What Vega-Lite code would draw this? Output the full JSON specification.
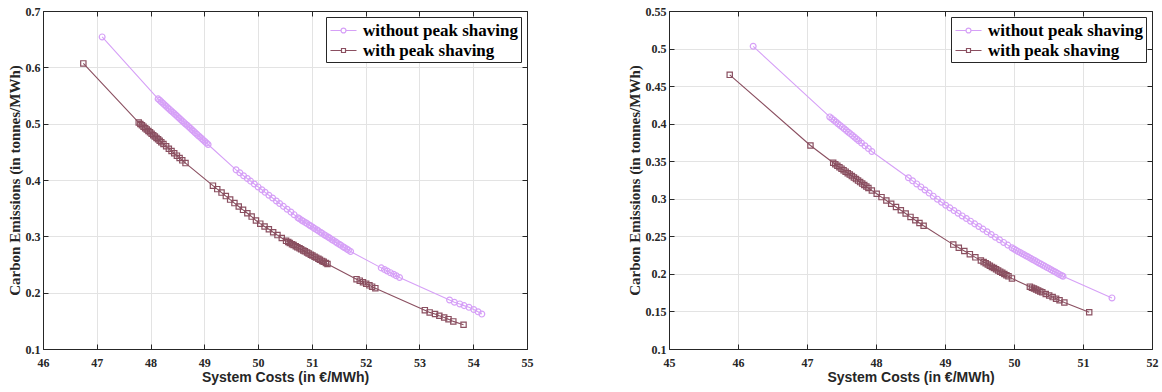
{
 "$schema": "https://vega.github.io/schema/vega-lite/v6.json",
 "background": "white",
 "padding": {"left": 6, "top": 4, "right": 2, "bottom": 2},
 "spacing": 92,
 "config": {
  "view": {"stroke": "#262626", "strokeWidth": 1},
  "axis": {"labelFont": "Liberation Serif", "labelFontWeight": "bold", "labelFontSize": 12, "labelColor": "#262626",
           "titleFont": "Liberation Serif", "titleFontWeight": "bold", "titleFontSize": 15, "titleColor": "#262626",
           "gridColor": "#e3e3e3", "gridWidth": 1, "domainColor": "#262626", "tickColor": "#262626", "tickSize": -5,
           "labelFlush": false, "labelOverlap": false, "labelBound": false},
  "legend": {"title": null, "orient": "top-right", "offset": 6, "padding": 3, "rowPadding": 1, "strokeColor": "#262626", "fillColor": "white",
             "labelFont": "Liberation Serif", "labelFontSize": 17, "labelFontWeight": "bold", "labelColor": "black", "labelLimit": 300, "labelOffset": 9,
             "symbolSize": 361, "symbolOffset": 4, "symbolStrokeWidth": 1}
 },
 "datasets": {
  "left": [
   {"s":"with","x":46.75,"y":0.607},
   {"s":"with","x":47.78,"y":0.502},{"s":"with","x":47.81,"y":0.4995},{"s":"with","x":47.84,"y":0.497},{"s":"with","x":47.87,"y":0.4945},{"s":"with","x":47.90,"y":0.492},{"s":"with","x":47.93,"y":0.4896},{"s":"with","x":47.96,"y":0.4871},{"s":"with","x":47.99,"y":0.4846},{"s":"with","x":48.02,"y":0.4821},{"s":"with","x":48.05,"y":0.4796},{"s":"with","x":48.08,"y":0.4772},{"s":"with","x":48.11,"y":0.4747},{"s":"with","x":48.14,"y":0.4722},{"s":"with","x":48.17,"y":0.4697},{"s":"with","x":48.20,"y":0.4672},{"s":"with","x":48.24,"y":0.4639},{"s":"with","x":48.29,"y":0.4598},{"s":"with","x":48.34,"y":0.4556},{"s":"with","x":48.39,"y":0.4515},{"s":"with","x":48.44,"y":0.4474},{"s":"with","x":48.49,"y":0.4432},{"s":"with","x":48.54,"y":0.4391},{"s":"with","x":48.59,"y":0.4349},{"s":"with","x":48.65,"y":0.430},
   {"s":"with","x":49.16,"y":0.390},{"s":"with","x":49.24,"y":0.3838},{"s":"with","x":49.32,"y":0.3776},{"s":"with","x":49.40,"y":0.3714},{"s":"with","x":49.48,"y":0.3652},{"s":"with","x":49.56,"y":0.3590},{"s":"with","x":49.64,"y":0.3530},{"s":"with","x":49.72,"y":0.3470},{"s":"with","x":49.80,"y":0.3410},{"s":"with","x":49.88,"y":0.3350},{"s":"with","x":49.96,"y":0.3280},{"s":"with","x":50.04,"y":0.3225},{"s":"with","x":50.12,"y":0.3175},{"s":"with","x":50.20,"y":0.3125},{"s":"with","x":50.28,"y":0.3073},{"s":"with","x":50.36,"y":0.3022},{"s":"with","x":50.44,"y":0.2971},{"s":"with","x":50.52,"y":0.292},
   {"s":"with","x":50.56,"y":0.2899},{"s":"with","x":50.59,"y":0.2883},{"s":"with","x":50.63,"y":0.2861},{"s":"with","x":50.66,"y":0.2845},{"s":"with","x":50.70,"y":0.2824},{"s":"with","x":50.73,"y":0.2808},{"s":"with","x":50.77,"y":0.2787},{"s":"with","x":50.80,"y":0.2771},{"s":"with","x":50.84,"y":0.2750},{"s":"with","x":50.87,"y":0.2734},{"s":"with","x":50.91,"y":0.2713},{"s":"with","x":50.94,"y":0.2697},{"s":"with","x":50.98,"y":0.2675},{"s":"with","x":51.01,"y":0.2659},{"s":"with","x":51.05,"y":0.2638},{"s":"with","x":51.08,"y":0.2622},{"s":"with","x":51.12,"y":0.2601},{"s":"with","x":51.15,"y":0.2585},{"s":"with","x":51.19,"y":0.2564},{"s":"with","x":51.22,"y":0.2548},{"s":"with","x":51.26,"y":0.2526},{"s":"with","x":51.29,"y":0.251},
   {"s":"with","x":51.83,"y":0.224},{"s":"with","x":51.89,"y":0.2213},{"s":"with","x":51.95,"y":0.2185},{"s":"with","x":52.01,"y":0.2158},{"s":"with","x":52.07,"y":0.2130},{"s":"with","x":52.12,"y":0.2107},{"s":"with","x":52.18,"y":0.208},
   {"s":"with","x":53.10,"y":0.169},{"s":"with","x":53.19,"y":0.165},{"s":"with","x":53.29,"y":0.162},{"s":"with","x":53.37,"y":0.159},{"s":"with","x":53.46,"y":0.156},{"s":"with","x":53.54,"y":0.153},{"s":"with","x":53.63,"y":0.149},{"s":"with","x":53.82,"y":0.143},
   {"s":"without","x":47.10,"y":0.654},
   {"s":"without","x":48.14,"y":0.544},{"s":"without","x":48.17,"y":0.5414},{"s":"without","x":48.20,"y":0.5388},{"s":"without","x":48.23,"y":0.5362},{"s":"without","x":48.26,"y":0.5335},{"s":"without","x":48.29,"y":0.5309},{"s":"without","x":48.32,"y":0.5283},{"s":"without","x":48.35,"y":0.5257},{"s":"without","x":48.38,"y":0.5231},{"s":"without","x":48.41,"y":0.5205},{"s":"without","x":48.44,"y":0.5179},{"s":"without","x":48.47,"y":0.5153},{"s":"without","x":48.50,"y":0.5126},{"s":"without","x":48.53,"y":0.5100},{"s":"without","x":48.56,"y":0.5074},{"s":"without","x":48.59,"y":0.5048},{"s":"without","x":48.62,"y":0.5022},{"s":"without","x":48.65,"y":0.4996},{"s":"without","x":48.68,"y":0.4970},{"s":"without","x":48.71,"y":0.4944},{"s":"without","x":48.74,"y":0.4917},{"s":"without","x":48.77,"y":0.4891},{"s":"without","x":48.80,"y":0.4865},{"s":"without","x":48.83,"y":0.4839},{"s":"without","x":48.86,"y":0.4813},{"s":"without","x":48.89,"y":0.4787},{"s":"without","x":48.92,"y":0.4761},{"s":"without","x":48.95,"y":0.4735},{"s":"without","x":48.98,"y":0.4708},{"s":"without","x":49.01,"y":0.4682},{"s":"without","x":49.04,"y":0.4656},{"s":"without","x":49.07,"y":0.463},
   {"s":"without","x":49.59,"y":0.418},{"s":"without","x":49.66,"y":0.4128},{"s":"without","x":49.73,"y":0.4076},{"s":"without","x":49.80,"y":0.4025},{"s":"without","x":49.86,"y":0.3980},{"s":"without","x":49.93,"y":0.3928},{"s":"without","x":50.00,"y":0.3877},{"s":"without","x":50.07,"y":0.3826},{"s":"without","x":50.13,"y":0.3781},{"s":"without","x":50.20,"y":0.3730},{"s":"without","x":50.27,"y":0.3680},{"s":"without","x":50.34,"y":0.3628},{"s":"without","x":50.40,"y":0.3583},{"s":"without","x":50.47,"y":0.3532},{"s":"without","x":50.54,"y":0.3480},{"s":"without","x":50.61,"y":0.3430},{"s":"without","x":50.67,"y":0.3385},{"s":"without","x":50.74,"y":0.333},
   {"s":"without","x":50.77,"y":0.3312},{"s":"without","x":50.81,"y":0.3287},{"s":"without","x":50.84,"y":0.3269},{"s":"without","x":50.88,"y":0.3244},{"s":"without","x":50.91,"y":0.3226},{"s":"without","x":50.95,"y":0.3201},{"s":"without","x":50.98,"y":0.3183},{"s":"without","x":51.02,"y":0.3159},{"s":"without","x":51.05,"y":0.3140},{"s":"without","x":51.09,"y":0.3116},{"s":"without","x":51.12,"y":0.3097},{"s":"without","x":51.16,"y":0.3073},{"s":"without","x":51.19,"y":0.3055},{"s":"without","x":51.23,"y":0.3030},{"s":"without","x":51.26,"y":0.3012},{"s":"without","x":51.30,"y":0.2987},{"s":"without","x":51.33,"y":0.2969},{"s":"without","x":51.37,"y":0.2944},{"s":"without","x":51.40,"y":0.2926},{"s":"without","x":51.44,"y":0.2902},{"s":"without","x":51.47,"y":0.2883},{"s":"without","x":51.51,"y":0.2859},{"s":"without","x":51.54,"y":0.2840},{"s":"without","x":51.58,"y":0.2816},{"s":"without","x":51.61,"y":0.2798},{"s":"without","x":51.65,"y":0.2773},{"s":"without","x":51.68,"y":0.2755},{"s":"without","x":51.72,"y":0.273},
   {"s":"without","x":52.29,"y":0.244},{"s":"without","x":52.35,"y":0.2410},{"s":"without","x":52.40,"y":0.2385},{"s":"without","x":52.46,"y":0.2355},{"s":"without","x":52.52,"y":0.2325},{"s":"without","x":52.57,"y":0.2300},{"s":"without","x":52.63,"y":0.227},
   {"s":"without","x":53.56,"y":0.187},{"s":"without","x":53.65,"y":0.183},{"s":"without","x":53.75,"y":0.180},{"s":"without","x":53.83,"y":0.177},{"s":"without","x":53.92,"y":0.174},{"s":"without","x":54.01,"y":0.170},{"s":"without","x":54.09,"y":0.166},{"s":"without","x":54.16,"y":0.162}
  ],
  "right": [
   {"s":"with","x":45.88,"y":0.465},{"s":"with","x":47.05,"y":0.371},
   {"s":"with","x":47.38,"y":0.348},{"s":"with","x":47.41,"y":0.346},{"s":"with","x":47.44,"y":0.344},{"s":"with","x":47.47,"y":0.3421},{"s":"with","x":47.50,"y":0.3401},{"s":"with","x":47.53,"y":0.3381},{"s":"with","x":47.56,"y":0.3361},{"s":"with","x":47.59,"y":0.3341},{"s":"with","x":47.62,"y":0.3322},{"s":"with","x":47.65,"y":0.3302},{"s":"with","x":47.68,"y":0.3282},{"s":"with","x":47.71,"y":0.3262},{"s":"with","x":47.74,"y":0.3242},{"s":"with","x":47.77,"y":0.3222},{"s":"with","x":47.80,"y":0.3202},{"s":"with","x":47.83,"y":0.3183},{"s":"with","x":47.86,"y":0.3163},{"s":"with","x":47.89,"y":0.3143},{"s":"with","x":47.94,"y":0.311},
   {"s":"with","x":48.01,"y":0.3066},{"s":"with","x":48.08,"y":0.3022},{"s":"with","x":48.15,"y":0.2978},{"s":"with","x":48.22,"y":0.2934},{"s":"with","x":48.29,"y":0.2890},{"s":"with","x":48.36,"y":0.2847},{"s":"with","x":48.43,"y":0.2803},{"s":"with","x":48.50,"y":0.2759},{"s":"with","x":48.57,"y":0.2715},{"s":"with","x":48.63,"y":0.2677},{"s":"with","x":48.69,"y":0.264},
   {"s":"with","x":49.12,"y":0.239},{"s":"with","x":49.20,"y":0.2348},{"s":"with","x":49.28,"y":0.2305},{"s":"with","x":49.36,"y":0.2263},{"s":"with","x":49.44,"y":0.2220},{"s":"with","x":49.52,"y":0.2178},{"s":"with","x":49.56,"y":0.2157},{"s":"with","x":49.59,"y":0.2141},{"s":"with","x":49.62,"y":0.2125},{"s":"with","x":49.65,"y":0.2109},{"s":"with","x":49.68,"y":0.2093},{"s":"with","x":49.71,"y":0.2078},{"s":"with","x":49.74,"y":0.2062},{"s":"with","x":49.77,"y":0.2046},{"s":"with","x":49.80,"y":0.2030},{"s":"with","x":49.83,"y":0.2014},{"s":"with","x":49.86,"y":0.1998},{"s":"with","x":49.89,"y":0.1982},{"s":"with","x":49.92,"y":0.1967},{"s":"with","x":49.97,"y":0.194},
   {"s":"with","x":50.23,"y":0.183},{"s":"with","x":50.26,"y":0.1817},{"s":"with","x":50.29,"y":0.1805},{"s":"with","x":50.32,"y":0.1792},{"s":"with","x":50.35,"y":0.1780},{"s":"with","x":50.38,"y":0.1767},{"s":"with","x":50.41,"y":0.1754},{"s":"with","x":50.46,"y":0.1733},{"s":"with","x":50.51,"y":0.1712},{"s":"with","x":50.56,"y":0.1691},{"s":"with","x":50.61,"y":0.1670},{"s":"with","x":50.66,"y":0.1649},{"s":"with","x":50.73,"y":0.162},
   {"s":"with","x":51.09,"y":0.149},
   {"s":"without","x":46.22,"y":0.503},
   {"s":"without","x":47.33,"y":0.409},{"s":"without","x":47.36,"y":0.4067},{"s":"without","x":47.39,"y":0.4045},{"s":"without","x":47.42,"y":0.4022},{"s":"without","x":47.45,"y":0.3999},{"s":"without","x":47.48,"y":0.3977},{"s":"without","x":47.51,"y":0.3954},{"s":"without","x":47.54,"y":0.3932},{"s":"without","x":47.57,"y":0.3909},{"s":"without","x":47.60,"y":0.3886},{"s":"without","x":47.63,"y":0.3864},{"s":"without","x":47.66,"y":0.3841},{"s":"without","x":47.69,"y":0.3819},{"s":"without","x":47.72,"y":0.3796},{"s":"without","x":47.75,"y":0.3773},{"s":"without","x":47.79,"y":0.3743},{"s":"without","x":47.84,"y":0.3705},{"s":"without","x":47.89,"y":0.3668},{"s":"without","x":47.94,"y":0.363},
   {"s":"without","x":48.47,"y":0.328},{"s":"without","x":48.53,"y":0.3239},{"s":"without","x":48.59,"y":0.3198},{"s":"without","x":48.65,"y":0.3158},{"s":"without","x":48.71,"y":0.3117},{"s":"without","x":48.77,"y":0.3076},{"s":"without","x":48.83,"y":0.3035},{"s":"without","x":48.89,"y":0.2995},{"s":"without","x":48.95,"y":0.2954},{"s":"without","x":49.01,"y":0.2914},{"s":"without","x":49.07,"y":0.2879},{"s":"without","x":49.13,"y":0.2843},{"s":"without","x":49.19,"y":0.2808},{"s":"without","x":49.25,"y":0.2772},{"s":"without","x":49.31,"y":0.2737},{"s":"without","x":49.37,"y":0.2702},{"s":"without","x":49.43,"y":0.2666},{"s":"without","x":49.49,"y":0.2631},{"s":"without","x":49.55,"y":0.2596},{"s":"without","x":49.61,"y":0.2560},{"s":"without","x":49.67,"y":0.2525},{"s":"without","x":49.73,"y":0.2489},{"s":"without","x":49.79,"y":0.2454},{"s":"without","x":49.85,"y":0.2419},{"s":"without","x":49.91,"y":0.2383},{"s":"without","x":49.97,"y":0.2348},
   {"s":"without","x":50.00,"y":0.233},{"s":"without","x":50.03,"y":0.2315},{"s":"without","x":50.06,"y":0.2299},{"s":"without","x":50.09,"y":0.2284},{"s":"without","x":50.12,"y":0.2269},{"s":"without","x":50.15,"y":0.2253},{"s":"without","x":50.18,"y":0.2238},{"s":"without","x":50.21,"y":0.2223},{"s":"without","x":50.24,"y":0.2208},{"s":"without","x":50.27,"y":0.2192},{"s":"without","x":50.30,"y":0.2177},{"s":"without","x":50.33,"y":0.2162},{"s":"without","x":50.36,"y":0.2146},{"s":"without","x":50.39,"y":0.2131},{"s":"without","x":50.42,"y":0.2116},{"s":"without","x":50.45,"y":0.2100},{"s":"without","x":50.48,"y":0.2085},{"s":"without","x":50.51,"y":0.2070},{"s":"without","x":50.54,"y":0.2054},{"s":"without","x":50.57,"y":0.2039},{"s":"without","x":50.60,"y":0.2024},{"s":"without","x":50.63,"y":0.2008},{"s":"without","x":50.66,"y":0.1993},{"s":"without","x":50.69,"y":0.1978},{"s":"without","x":50.71,"y":0.197},
   {"s":"without","x":51.42,"y":0.168}
  ]
 },
 "hconcat": [
  {
   "width": 484, "height": 338,
   "data": {"name": "left"},
   "layer": [
    {"mark": {"type": "line", "strokeWidth": 1.1},
     "encoding": {
      "x": {"field": "x", "type": "quantitative", "scale": {"domain": [46, 55], "nice": false, "zero": false},
            "axis": {"orient": "bottom", "values": [46,47,48,49,50,51,52,53,54,55], "title": "System Costs (in €/MWh)",
                     "titleFont": "Liberation Sans", "titleFontSize": 14, "titleFontWeight": "bold", "titlePadding": 2, "labelPadding": 13, "grid": true}},
      "y": {"field": "y", "type": "quantitative", "scale": {"domain": [0.1, 0.7], "nice": false, "zero": false},
            "axis": {"orient": "left", "values": [0.1,0.2,0.3,0.4,0.5,0.6,0.7], "format": "~g", "title": "Carbon Emissions (in tonnes/MWh)", "titlePadding": 3, "labelPadding": 8, "grid": true}},
      "color": {"field": "s", "type": "nominal", "scale": {"domain": ["without", "with"], "range": ["#d6a0f7", "#8a4f60"]},
                "legend": {"labelExpr": "datum.label + ' peak shaving'",
                           "encode": {"symbols": {"update": {
                             "shape": {"signal": "datum.value === 'with' ? 'M-1.37,0H-0.21M0.21,0H1.37M-0.21,-0.21H0.21V0.21H-0.21Z' : 'M-1.37,0H-0.26M0.26,0H1.37M-0.26,0A0.26,0.26,0,1,1,0.26,0A0.26,0.26,0,1,1,-0.26,0'"},
                             "fill": {"value": "transparent"},
                             "stroke": {"signal": "datum.value === 'with' ? '#8a4f60' : '#d6a0f7'"},
                             "strokeWidth": {"value": 1.2}}}}}}
     }},
    {"transform": [{"filter": "datum.s === 'without'"}],
     "mark": {"type": "point", "shape": "circle", "filled": false, "strokeWidth": 1.2, "size": 34, "opacity": 1},
     "encoding": {
      "x": {"field": "x", "type": "quantitative", "axis": {"orient": "top", "values": [46,47,48,49,50,51,52,53,54,55], "labels": false, "title": null, "grid": false}},
      "y": {"field": "y", "type": "quantitative", "axis": {"orient": "right", "values": [0.1,0.2,0.3,0.4,0.5,0.6,0.7], "labels": false, "title": null, "grid": false}},
      "color": {"field": "s", "type": "nominal"}
     }},
    {"transform": [{"filter": "datum.s === 'with'"}],
     "mark": {"type": "point", "shape": "square", "filled": false, "strokeWidth": 1.2, "size": 28, "opacity": 1},
     "encoding": {
      "x": {"field": "x", "type": "quantitative", "axis": null},
      "y": {"field": "y", "type": "quantitative", "axis": null},
      "color": {"field": "s", "type": "nominal"}
     }}
   ],
   "resolve": {"axis": {"x": "independent", "y": "independent"}}
  },
  {
   "width": 483, "height": 338,
   "data": {"name": "right"},
   "layer": [
    {"mark": {"type": "line", "strokeWidth": 1.1},
     "encoding": {
      "x": {"field": "x", "type": "quantitative", "scale": {"domain": [45, 52], "nice": false, "zero": false},
            "axis": {"orient": "bottom", "values": [45,46,47,48,49,50,51,52], "title": "System Costs (in €/MWh)",
                     "titleFont": "Liberation Sans", "titleFontSize": 14, "titleFontWeight": "bold", "titlePadding": 2, "labelPadding": 13, "grid": true}},
      "y": {"field": "y", "type": "quantitative", "scale": {"domain": [0.1, 0.55], "nice": false, "zero": false},
            "axis": {"orient": "left", "values": [0.1,0.15,0.2,0.25,0.3,0.35,0.4,0.45,0.5,0.55], "format": "~g", "title": "Carbon Emissions (in tonnes/MWh)", "titlePadding": 3, "labelPadding": 8, "grid": true}},
      "color": {"field": "s", "type": "nominal", "scale": {"domain": ["without", "with"], "range": ["#d6a0f7", "#8a4f60"]},
                "legend": {"labelExpr": "datum.label + ' peak shaving'",
                           "encode": {"symbols": {"update": {
                             "shape": {"signal": "datum.value === 'with' ? 'M-1.37,0H-0.21M0.21,0H1.37M-0.21,-0.21H0.21V0.21H-0.21Z' : 'M-1.37,0H-0.26M0.26,0H1.37M-0.26,0A0.26,0.26,0,1,1,0.26,0A0.26,0.26,0,1,1,-0.26,0'"},
                             "fill": {"value": "transparent"},
                             "stroke": {"signal": "datum.value === 'with' ? '#8a4f60' : '#d6a0f7'"},
                             "strokeWidth": {"value": 1.2}}}}}}
     }},
    {"transform": [{"filter": "datum.s === 'without'"}],
     "mark": {"type": "point", "shape": "circle", "filled": false, "strokeWidth": 1.2, "size": 34, "opacity": 1},
     "encoding": {
      "x": {"field": "x", "type": "quantitative", "axis": {"orient": "top", "values": [45,46,47,48,49,50,51,52], "labels": false, "title": null, "grid": false}},
      "y": {"field": "y", "type": "quantitative", "axis": {"orient": "right", "values": [0.1,0.15,0.2,0.25,0.3,0.35,0.4,0.45,0.5,0.55], "labels": false, "title": null, "grid": false}},
      "color": {"field": "s", "type": "nominal"}
     }},
    {"transform": [{"filter": "datum.s === 'with'"}],
     "mark": {"type": "point", "shape": "square", "filled": false, "strokeWidth": 1.2, "size": 28, "opacity": 1},
     "encoding": {
      "x": {"field": "x", "type": "quantitative", "axis": null},
      "y": {"field": "y", "type": "quantitative", "axis": null},
      "color": {"field": "s", "type": "nominal"}
     }}
   ],
   "resolve": {"axis": {"x": "independent", "y": "independent"}}
  }
 ],
 "resolve": {"scale": {"color": "independent"}, "legend": {"color": "independent"}}
}
